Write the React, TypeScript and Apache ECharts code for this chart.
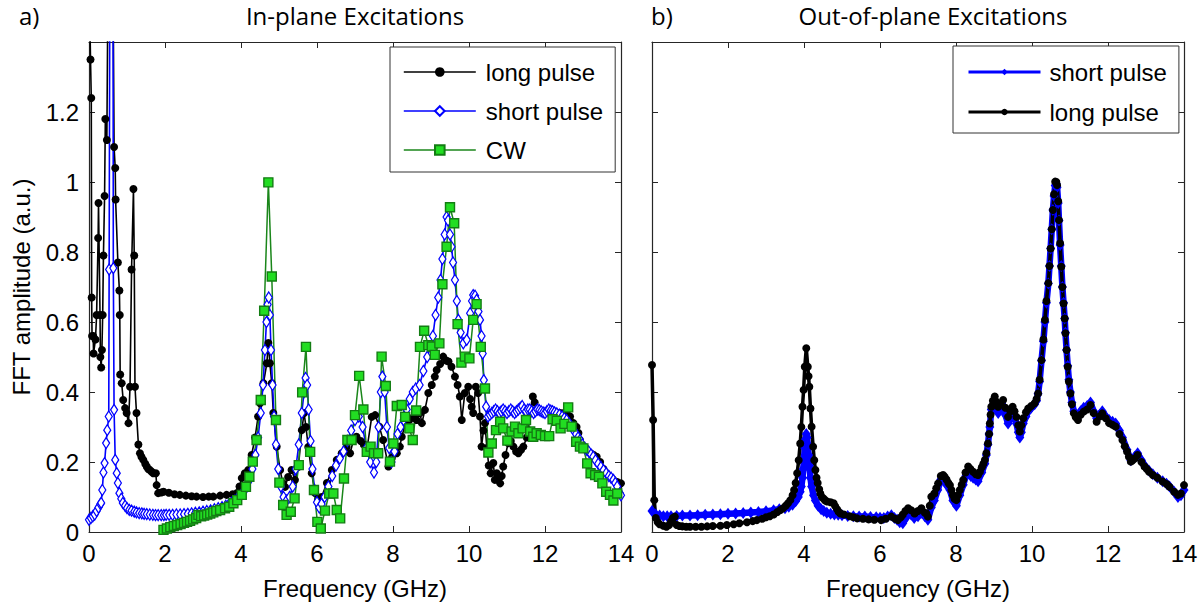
import React, { useEffect, useRef } from "react";
import * as echarts from "echarts";

// ---------- data (frequency GHz, FFT amplitude a.u.) ----------
const inLong: number[][] = [
  [0,1.6],[0.04,1.35],[0.06,1.24],[0.07,0.67],[0.08,0.56],[0.11,0.56],[0.12,0.51],[0.17,0.55],[0.2,0.62],[0.24,0.84],[0.25,0.94],[0.29,0.62],[0.3,0.5],[0.32,0.47],[0.34,0.52],[0.36,0.62],[0.38,0.79],[0.41,0.96],[0.43,1.18],[0.47,1.12],[0.52,1.9],[0.62,1.8],[0.66,1.1],[0.69,1.04],[0.7,0.95],[0.76,0.77],[0.8,0.69],[0.81,0.62],[0.82,0.45],[0.86,0.425],[0.9,0.377],[0.95,0.354],[0.99,0.34],[1.04,0.311],[1.08,0.415],[1.12,0.75],[1.17,0.98],[1.19,0.79],[1.21,0.415],[1.25,0.34],[1.3,0.25],[1.34,0.225],[1.38,0.215],[1.43,0.206],[1.48,0.195],[1.52,0.187],[1.56,0.18],[1.6,0.177],[1.65,0.172],[1.69,0.168],[1.76,0.168],[1.78,0.134],[1.82,0.111],[1.9,0.113],[1.96,0.115],[2.1,0.112],[2.25,0.108],[2.39,0.106],[2.55,0.104],[2.7,0.102],[2.83,0.101],[3.0,0.1],[3.15,0.101],[3.27,0.101],[3.45,0.104],[3.62,0.106],[3.78,0.108],[3.89,0.111],[3.96,0.13],[4.02,0.154],[4.1,0.168],[4.19,0.177],[4.28,0.22],[4.37,0.27],[4.45,0.33],[4.5,0.368],[4.59,0.425],[4.68,0.482],[4.72,0.54],[4.76,0.482],[4.81,0.425],[4.85,0.34],[4.94,0.244],[5.03,0.177],[5.1,0.14],[5.16,0.129],[5.24,0.157],[5.33,0.177],[5.42,0.149],[5.51,0.186],[5.6,0.291],[5.66,0.34],[5.71,0.3],[5.77,0.243],[5.86,0.168],[5.95,0.111],[6.03,0.091],[6.12,0.1],[6.26,0.14],[6.39,0.177],[6.52,0.206],[6.65,0.225],[6.78,0.243],[6.87,0.225],[6.96,0.263],[7.04,0.272],[7.15,0.26],[7.23,0.25],[7.31,0.234],[7.44,0.329],[7.53,0.334],[7.64,0.301],[7.74,0.263],[7.88,0.187],[7.97,0.212],[8.1,0.225],[8.18,0.244],[8.23,0.272],[8.32,0.306],[8.43,0.32],[8.55,0.33],[8.62,0.32],[8.71,0.34],[8.76,0.311],[8.84,0.349],[8.93,0.397],[9.02,0.42],[9.1,0.444],[9.15,0.463],[9.24,0.48],[9.32,0.501],[9.4,0.49],[9.46,0.487],[9.54,0.472],[9.63,0.444],[9.7,0.42],[9.76,0.387],[9.81,0.32],[9.89,0.397],[9.98,0.415],[10.03,0.38],[10.07,0.358],[10.11,0.34],[10.18,0.415],[10.24,0.397],[10.29,0.33],[10.33,0.244],[10.38,0.29],[10.42,0.311],[10.47,0.24],[10.52,0.19],[10.57,0.168],[10.64,0.197],[10.68,0.149],[10.73,0.168],[10.78,0.155],[10.82,0.139],[10.86,0.16],[10.9,0.187],[10.96,0.22],[11.03,0.254],[11.1,0.26],[11.17,0.244],[11.24,0.23],[11.3,0.225],[11.37,0.235],[11.43,0.244],[11.52,0.27],[11.56,0.291],[11.62,0.35],[11.68,0.387],[11.73,0.37],[11.78,0.349],[11.87,0.345],[11.96,0.34],[12.04,0.344],[12.13,0.349],[12.22,0.345],[12.31,0.339],[12.4,0.34],[12.48,0.339],[12.57,0.34],[12.66,0.33],[12.75,0.311],[12.83,0.3],[12.88,0.283],[12.92,0.263],[13.01,0.245],[13.1,0.234],[13.2,0.225],[13.28,0.22],[13.36,0.215],[13.45,0.2],[13.54,0.18],[13.62,0.168],[13.71,0.158],[13.8,0.149],[13.9,0.143],[14.0,0.139]
];

const inShort: number[][] = [
  [0,0.035],[0.05,0.04],[0.1,0.045],[0.15,0.05],[0.2,0.06],[0.25,0.07],[0.3,0.08],[0.32,0.083],[0.35,0.12],[0.38,0.17],[0.41,0.197],[0.45,0.254],[0.48,0.291],[0.52,0.33],[0.53,0.75],[0.58,3.0],[0.62,3.0],[0.64,0.754],[0.66,0.349],[0.69,0.206],[0.73,0.168],[0.76,0.14],[0.8,0.111],[0.85,0.095],[0.89,0.083],[0.95,0.075],[1.0,0.068],[1.06,0.063],[1.12,0.061],[1.19,0.058],[1.25,0.056],[1.32,0.054],[1.39,0.053],[1.45,0.052],[1.52,0.051],[1.6,0.05],[1.68,0.049],[1.75,0.048],[1.82,0.048],[1.9,0.048],[1.97,0.048],[2.03,0.049],[2.11,0.049],[2.2,0.049],[2.3,0.05],[2.4,0.05],[2.5,0.051],[2.6,0.052],[2.7,0.053],[2.8,0.055],[2.9,0.056],[3.0,0.058],[3.1,0.06],[3.2,0.062],[3.3,0.065],[3.4,0.068],[3.5,0.071],[3.6,0.075],[3.68,0.079],[3.75,0.083],[3.83,0.089],[3.9,0.095],[4.0,0.105],[4.1,0.12],[4.2,0.145],[4.3,0.18],[4.38,0.22],[4.45,0.27],[4.52,0.34],[4.58,0.42],[4.63,0.52],[4.67,0.6],[4.7,0.65],[4.73,0.67],[4.76,0.62],[4.79,0.52],[4.83,0.42],[4.87,0.33],[4.92,0.25],[4.98,0.18],[5.05,0.13],[5.12,0.1],[5.2,0.09],[5.28,0.1],[5.36,0.13],[5.44,0.18],[5.52,0.25],[5.6,0.34],[5.66,0.4],[5.7,0.44],[5.74,0.42],[5.78,0.35],[5.83,0.26],[5.88,0.18],[5.94,0.12],[6.0,0.085],[6.06,0.07],[6.12,0.08],[6.2,0.1],[6.3,0.13],[6.4,0.16],[6.5,0.19],[6.6,0.21],[6.7,0.23],[6.8,0.26],[6.9,0.29],[7.0,0.32],[7.1,0.33],[7.2,0.3],[7.3,0.24],[7.4,0.2],[7.5,0.17],[7.56,0.2],[7.62,0.3],[7.68,0.4],[7.72,0.444],[7.78,0.4],[7.84,0.3],[7.9,0.24],[7.96,0.2],[8.04,0.23],[8.12,0.28],[8.2,0.3],[8.28,0.32],[8.36,0.35],[8.44,0.38],[8.52,0.4],[8.6,0.41],[8.7,0.42],[8.8,0.46],[8.9,0.5],[8.98,0.53],[9.05,0.56],[9.12,0.62],[9.19,0.67],[9.25,0.72],[9.3,0.78],[9.36,0.85],[9.41,0.9],[9.45,0.89],[9.5,0.85],[9.54,0.815],[9.58,0.77],[9.63,0.72],[9.68,0.66],[9.72,0.606],[9.78,0.57],[9.85,0.539],[9.94,0.549],[10.03,0.625],[10.08,0.66],[10.11,0.677],[10.16,0.675],[10.2,0.663],[10.25,0.63],[10.29,0.606],[10.33,0.56],[10.36,0.51],[10.39,0.434],[10.45,0.358],[10.5,0.33],[10.55,0.335],[10.6,0.34],[10.65,0.345],[10.7,0.35],[10.75,0.345],[10.8,0.34],[10.85,0.345],[10.9,0.35],[10.95,0.345],[11.0,0.34],[11.05,0.345],[11.1,0.35],[11.15,0.345],[11.2,0.34],[11.25,0.345],[11.3,0.35],[11.35,0.355],[11.4,0.36],[11.45,0.35],[11.5,0.345],[11.55,0.35],[11.6,0.35],[11.65,0.345],[11.7,0.34],[11.75,0.345],[11.8,0.35],[11.85,0.348],[11.9,0.345],[11.95,0.342],[12.0,0.34],[12.05,0.345],[12.1,0.35],[12.15,0.347],[12.2,0.345],[12.25,0.342],[12.31,0.339],[12.38,0.335],[12.45,0.33],[12.51,0.325],[12.57,0.32],[12.64,0.31],[12.7,0.3],[12.76,0.29],[12.82,0.28],[12.87,0.27],[12.92,0.263],[12.98,0.25],[13.05,0.24],[13.1,0.235],[13.15,0.23],[13.21,0.222],[13.27,0.215],[13.33,0.205],[13.4,0.195],[13.47,0.186],[13.54,0.177],[13.61,0.168],[13.68,0.16],[13.74,0.155],[13.8,0.149],[13.85,0.14],[13.9,0.13],[13.97,0.111],[14.0,0.105]
];

const inCW: number[][] = [
  [1.96,0.006],[2.05,0.01],[2.14,0.014],[2.23,0.017],[2.32,0.02],[2.41,0.023],[2.5,0.026],[2.58,0.029],[2.66,0.032],[2.74,0.036],[2.82,0.04],[2.88,0.049],[2.95,0.045],[3.03,0.047],[3.11,0.05],[3.19,0.053],[3.27,0.056],[3.35,0.06],[3.45,0.063],[3.58,0.068],[3.69,0.072],[3.8,0.082],[3.9,0.091],[4.02,0.106],[4.13,0.129],[4.22,0.158],[4.31,0.201],[4.41,0.263],[4.52,0.377],[4.61,0.632],[4.72,0.999],[4.81,0.73],[4.92,0.32],[5.01,0.141],[5.11,0.077],[5.2,0.049],[5.31,0.058],[5.41,0.096],[5.52,0.191],[5.61,0.399],[5.71,0.529],[5.82,0.229],[5.92,0.12],[6.01,0.029],[6.1,0.01],[6.21,0.061],[6.32,0.11],[6.43,0.11],[6.52,0.063],[6.61,0.039],[6.71,0.153],[6.8,0.263],[6.91,0.263],[7.0,0.334],[7.11,0.446],[7.22,0.35],[7.31,0.229],[7.41,0.244],[7.5,0.225],[7.61,0.225],[7.7,0.501],[7.81,0.417],[7.92,0.201],[8.01,0.253],[8.1,0.36],[8.23,0.363],[8.32,0.329],[8.43,0.296],[8.52,0.263],[8.61,0.347],[8.71,0.529],[8.82,0.575],[8.93,0.534],[9.02,0.53],[9.1,0.506],[9.22,0.539],[9.3,0.708],[9.41,0.815],[9.5,0.928],[9.61,0.882],[9.7,0.594],[9.8,0.484],[9.89,0.501],[10.01,0.496],[10.11,0.606],[10.2,0.651],[10.31,0.529],[10.42,0.41],[10.51,0.227],[10.6,0.253],[10.71,0.291],[10.82,0.315],[10.9,0.296],[11.01,0.261],[11.12,0.287],[11.21,0.301],[11.3,0.282],[11.41,0.296],[11.5,0.32],[11.61,0.287],[11.69,0.272],[11.78,0.282],[11.89,0.277],[12.0,0.274],[12.11,0.274],[12.2,0.322],[12.31,0.318],[12.41,0.296],[12.51,0.309],[12.61,0.356],[12.7,0.301],[12.82,0.258],[12.92,0.244],[13.01,0.239],[13.11,0.196],[13.2,0.168],[13.32,0.163],[13.42,0.158],[13.51,0.139],[13.61,0.115],[13.71,0.106],[13.8,0.09],[13.9,0.11]
];

const outShort: number[][] = [
  [0,0.06],[0.1,0.05],[0.2,0.047],[0.3,0.045],[0.4,0.045],[0.5,0.045],[0.65,0.046],[0.8,0.047],[1.0,0.047],[1.2,0.048],[1.4,0.049],[1.6,0.05],[1.8,0.051],[2.0,0.052],[2.2,0.053],[2.4,0.054],[2.6,0.056],[2.8,0.057],[3.0,0.059],[3.2,0.062],[3.35,0.065],[3.5,0.068],[3.6,0.072],[3.7,0.078],[3.78,0.088],[3.85,0.1],[3.9,0.115],[3.93,0.13],[3.96,0.155],[3.98,0.18],[4.0,0.21],[4.02,0.24],[4.04,0.265],[4.06,0.28],[4.08,0.27],[4.1,0.25],[4.12,0.22],[4.14,0.19],[4.17,0.155],[4.2,0.13],[4.25,0.105],[4.3,0.09],[4.37,0.075],[4.45,0.065],[4.52,0.06],[4.6,0.055],[4.7,0.052],[4.8,0.05],[4.9,0.049],[5.0,0.048],[5.15,0.046],[5.3,0.045],[5.45,0.044],[5.6,0.044],[5.75,0.043],[5.9,0.042],[6.0,0.041],[6.1,0.04],[6.2,0.044],[6.3,0.048],[6.38,0.04],[6.45,0.035],[6.52,0.028],[6.6,0.025],[6.68,0.04],[6.74,0.055],[6.82,0.05],[6.9,0.04],[7.0,0.045],[7.09,0.055],[7.18,0.045],[7.26,0.035],[7.35,0.07],[7.43,0.09],[7.52,0.12],[7.6,0.15],[7.66,0.15],[7.75,0.135],[7.84,0.12],[7.92,0.09],[8.01,0.075],[8.1,0.105],[8.19,0.135],[8.26,0.16],[8.32,0.17],[8.39,0.16],[8.45,0.155],[8.52,0.15],[8.58,0.145],[8.68,0.17],[8.76,0.195],[8.8,0.22],[8.84,0.25],[8.87,0.28],[8.89,0.3],[8.93,0.35],[8.98,0.365],[9.02,0.37],[9.07,0.355],[9.11,0.34],[9.17,0.35],[9.24,0.36],[9.3,0.335],[9.37,0.31],[9.43,0.325],[9.49,0.34],[9.54,0.325],[9.59,0.31],[9.64,0.285],[9.68,0.27],[9.72,0.285],[9.77,0.31],[9.84,0.33],[9.9,0.345],[9.98,0.355],[10.07,0.365],[10.12,0.375],[10.16,0.395],[10.2,0.43],[10.25,0.49],[10.3,0.545],[10.34,0.6],[10.38,0.655],[10.43,0.71],[10.46,0.76],[10.49,0.81],[10.52,0.865],[10.55,0.92],[10.58,0.96],[10.61,0.99],[10.64,0.995],[10.66,0.985],[10.69,0.94],[10.71,0.89],[10.74,0.82],[10.77,0.76],[10.8,0.7],[10.83,0.655],[10.86,0.61],[10.88,0.57],[10.91,0.52],[10.94,0.475],[10.97,0.435],[11.01,0.4],[11.05,0.37],[11.1,0.345],[11.15,0.335],[11.21,0.33],[11.28,0.345],[11.36,0.355],[11.45,0.36],[11.54,0.37],[11.62,0.345],[11.7,0.325],[11.78,0.335],[11.85,0.345],[11.94,0.33],[12.03,0.32],[12.12,0.315],[12.2,0.31],[12.3,0.29],[12.38,0.27],[12.5,0.235],[12.6,0.205],[12.7,0.215],[12.78,0.225],[12.88,0.205],[12.96,0.19],[13.08,0.175],[13.18,0.165],[13.3,0.155],[13.44,0.145],[13.54,0.138],[13.62,0.13],[13.74,0.115],[13.84,0.1],[13.92,0.105],[14.0,0.12]
];

const outLong: number[][] = [
  [0,0.477],[0.03,0.32],[0.06,0.091],[0.1,0.04],[0.15,0.028],[0.2,0.022],[0.3,0.018],[0.38,0.015],[0.45,0.02],[0.5,0.03],[0.55,0.04],[0.6,0.044],[0.65,0.02],[0.72,0.017],[0.8,0.016],[0.9,0.015],[1.0,0.015],[1.15,0.015],[1.3,0.015],[1.45,0.016],[1.6,0.017],[1.8,0.018],[1.97,0.02],[2.15,0.022],[2.3,0.025],[2.5,0.028],[2.65,0.031],[2.76,0.034],[2.9,0.038],[3.0,0.042],[3.1,0.045],[3.2,0.05],[3.3,0.057],[3.38,0.063],[3.45,0.068],[3.52,0.075],[3.58,0.082],[3.64,0.091],[3.7,0.105],[3.74,0.12],[3.78,0.14],[3.82,0.168],[3.86,0.205],[3.9,0.253],[3.93,0.3],[3.96,0.358],[3.99,0.406],[4.02,0.472],[4.06,0.525],[4.1,0.472],[4.12,0.445],[4.14,0.415],[4.17,0.353],[4.2,0.301],[4.24,0.244],[4.27,0.205],[4.3,0.177],[4.33,0.155],[4.36,0.14],[4.4,0.122],[4.43,0.11],[4.47,0.1],[4.52,0.095],[4.56,0.09],[4.61,0.087],[4.7,0.085],[4.78,0.082],[4.82,0.074],[4.87,0.065],[4.91,0.058],[4.96,0.053],[5.05,0.05],[5.2,0.045],[5.3,0.042],[5.4,0.039],[5.55,0.038],[5.7,0.036],[5.85,0.035],[6.03,0.034],[6.15,0.038],[6.3,0.044],[6.4,0.038],[6.47,0.034],[6.55,0.042],[6.6,0.05],[6.67,0.06],[6.74,0.068],[6.82,0.062],[6.91,0.053],[7.0,0.06],[7.09,0.068],[7.18,0.055],[7.26,0.044],[7.31,0.075],[7.35,0.101],[7.43,0.11],[7.48,0.125],[7.53,0.139],[7.6,0.16],[7.66,0.163],[7.7,0.158],[7.75,0.15],[7.8,0.14],[7.84,0.134],[7.88,0.12],[7.92,0.105],[7.96,0.095],[8.01,0.091],[8.05,0.105],[8.1,0.12],[8.15,0.135],[8.19,0.149],[8.25,0.17],[8.32,0.187],[8.38,0.18],[8.45,0.172],[8.52,0.165],[8.58,0.163],[8.63,0.172],[8.68,0.185],[8.72,0.195],[8.76,0.206],[8.8,0.225],[8.84,0.253],[8.87,0.28],[8.89,0.31],[8.91,0.335],[8.93,0.358],[8.97,0.375],[9.02,0.387],[9.06,0.372],[9.11,0.358],[9.17,0.366],[9.24,0.377],[9.3,0.355],[9.37,0.329],[9.43,0.345],[9.49,0.358],[9.54,0.345],[9.59,0.329],[9.64,0.305],[9.68,0.287],[9.72,0.305],[9.77,0.325],[9.84,0.342],[9.9,0.353],[9.98,0.36],[10.07,0.368],[10.12,0.38],[10.16,0.396],[10.2,0.435],[10.25,0.491],[10.3,0.55],[10.34,0.606],[10.38,0.66],[10.43,0.711],[10.46,0.76],[10.49,0.81],[10.52,0.865],[10.55,0.92],[10.58,0.965],[10.61,1.001],[10.64,1.0],[10.66,0.991],[10.69,0.945],[10.71,0.891],[10.74,0.825],[10.77,0.758],[10.8,0.7],[10.83,0.653],[10.86,0.61],[10.88,0.568],[10.91,0.52],[10.94,0.472],[10.97,0.43],[11.01,0.396],[11.05,0.365],[11.1,0.339],[11.15,0.328],[11.21,0.32],[11.28,0.335],[11.36,0.344],[11.45,0.35],[11.54,0.363],[11.62,0.34],[11.7,0.315],[11.78,0.33],[11.85,0.339],[11.94,0.325],[12.03,0.311],[12.12,0.306],[12.2,0.301],[12.3,0.28],[12.38,0.263],[12.44,0.245],[12.5,0.23],[12.55,0.215],[12.6,0.201],[12.65,0.205],[12.7,0.21],[12.78,0.22],[12.88,0.2],[12.96,0.187],[13.02,0.18],[13.08,0.172],[13.18,0.163],[13.3,0.155],[13.44,0.144],[13.54,0.137],[13.62,0.129],[13.74,0.115],[13.84,0.106],[13.92,0.11],[14.0,0.134]
];

const xTicks = [0, 2, 4, 6, 8, 10, 12, 14];
const yTicks = [0, 0.2, 0.4, 0.6, 0.8, 1, 1.2];
const panelTitles = ["In-plane Excitations", "Out-of-plane Excitations"];
const panelLetters = ["a)", "b)"];
const legendLeft = ["long pulse", "short pulse", "CW"];
const legendRight = ["short pulse", "long pulse"];

const SANS = '"Liberation Sans", Arial, sans-serif';
const TITLE_FONT = '"Open Sans", "DejaVu Sans", sans-serif';
const AX = "#262626";

export default function App() {
  const ref = useRef<HTMLDivElement>(null);
  useEffect(() => {
    if (!ref.current) return;
    const chart = echarts.init(ref.current, undefined, { renderer: "svg" });
    const grids = [
      { left: 89, top: 42, width: 532, height: 490 },
      { left: 652, top: 42, width: 532, height: 490 },
    ];
    const xMin = xTicks[0];
    const xMax = xTicks[xTicks.length - 1];
    const yStep = yTicks[1] - yTicks[0];
    const yMax = 1.4;

    const mkX = (gridIndex: number, top: boolean, withName: boolean) => ({
      type: "value",
      gridIndex,
      position: top ? "top" : "bottom",
      min: xMin,
      max: xMax,
      interval: 2,
      name: withName ? "Frequency (GHz)" : "",
      nameLocation: "middle",
      nameGap: 44,
      nameTextStyle: { fontFamily: SANS, fontSize: 24, color: "#000" },
      axisLine: { show: true, onZero: false, lineStyle: { color: AX, width: 1.2 } },
      axisTick: { show: true, inside: true, length: 6, lineStyle: { color: AX } },
      axisLabel: {
        show: !top,
        fontFamily: SANS,
        fontSize: 24,
        color: "#000",
        margin: 9,
      },
      splitLine: { show: false },
    });
    const mkY = (gridIndex: number, right: boolean, labels: boolean, withName: boolean) => ({
      type: "value",
      gridIndex,
      position: right ? "right" : "left",
      min: 0,
      max: yMax,
      interval: yStep,
      name: withName ? "FFT amplitude (a.u.)" : "",
      nameLocation: "middle",
      nameGap: 56,
      nameTextStyle: { fontFamily: SANS, fontSize: 24, color: "#000" },
      axisLine: { show: true, onZero: false, lineStyle: { color: AX, width: 1.2 } },
      axisTick: { show: true, inside: true, length: 6, lineStyle: { color: AX } },
      axisLabel: {
        show: labels,
        fontFamily: SANS,
        fontSize: 24,
        color: "#000",
        margin: 10,
        formatter: (v: number) => (yTicks.some((t) => Math.abs(t - v) < 1e-6) ? String(Math.round(v * 10) / 10) : ""),
      },
      splitLine: { show: false },
    });

    const option: any = {
      animation: false,
      backgroundColor: "#fff",
      title: [
        { text: panelLetters[0], left: 19, top: 3, padding: 0, textStyle: { fontFamily: TITLE_FONT, fontSize: 24, fontWeight: "normal", color: "#000" } },
        { text: panelTitles[0], left: 355, top: 3, padding: 0, textAlign: "center", textStyle: { fontFamily: TITLE_FONT, fontSize: 24, fontWeight: "normal", color: "#000" } },
        { text: panelLetters[1], left: 651, top: 3, padding: 0, textStyle: { fontFamily: TITLE_FONT, fontSize: 24, fontWeight: "normal", color: "#000" } },
        { text: panelTitles[1], left: 933, top: 3, padding: 0, textAlign: "center", textStyle: { fontFamily: TITLE_FONT, fontSize: 24, fontWeight: "normal", color: "#000" } },
      ],
      legend: [
        {
          data: legendLeft,
          orient: "vertical",
          left: 390,
          top: 47,
          padding: [13, 12, 10, 13],
          itemGap: 15,
          itemWidth: 72,
          itemHeight: 12,
          borderColor: "#333",
          borderWidth: 1,
          borderRadius: 0,
          backgroundColor: "#fff",
          lineStyle: { width: 1.6 },
          textStyle: { fontFamily: SANS, fontSize: 24, color: "#000", padding: [0, 0, 0, 5] },
          selectedMode: false,
        },
        {
          data: [
            { name: legendRight[0], itemStyle: { color: "#0000ff", borderColor: "#0000ff", borderWidth: 0 }, lineStyle: { color: "#0000ff", width: 3 } },
            { name: legendRight[1], lineStyle: { width: 3 } },
          ],
          orient: "vertical",
          left: 953,
          top: 46,
          padding: [14, 12, 9, 14],
          itemGap: 16,
          itemWidth: 72,
          itemHeight: 8,
          borderColor: "#333",
          borderWidth: 1,
          borderRadius: 0,
          backgroundColor: "#fff",
          textStyle: { fontFamily: SANS, fontSize: 24, color: "#000", padding: [0, 0, 0, 4] },
          selectedMode: false,
        },
      ],
      grid: grids,
      xAxis: [mkX(0, false, true), mkX(0, true, false), mkX(1, false, true), mkX(1, true, false)],
      yAxis: [mkY(0, false, true, true), mkY(0, true, false, false), mkY(1, false, false, false), mkY(1, true, false, false)],
      series: [
        {
          name: "long pulse",
          type: "line",
          xAxisIndex: 0,
          yAxisIndex: 0,
          data: inLong,
          symbol: "circle",
          symbolSize: 8,
          clip: true,
          itemStyle: { color: "#000", borderWidth: 0 },
          lineStyle: { color: "#000", width: 1.6 },
          emphasis: { disabled: true },
          silent: true,
        },
        {
          name: "short pulse",
          type: "line",
          xAxisIndex: 0,
          yAxisIndex: 0,
          data: inShort,
          symbol: "diamond",
          symbolSize: [7, 11],
          clip: true,
          itemStyle: { color: "#fff", borderColor: "#0000ff", borderWidth: 1.3 },
          lineStyle: { color: "#0000ff", width: 1.6 },
          emphasis: { disabled: true },
          silent: true,
        },
        {
          name: "CW",
          type: "line",
          xAxisIndex: 0,
          yAxisIndex: 0,
          data: inCW,
          symbol: "rect",
          symbolSize: 9,
          clip: true,
          itemStyle: { color: "#22dd22", borderColor: "#137d13", borderWidth: 1.4 },
          lineStyle: { color: "#1a861a", width: 1.5 },
          emphasis: { disabled: true },
          silent: true,
        },
        {
          name: "short pulse",
          type: "line",
          xAxisIndex: 2,
          yAxisIndex: 2,
          data: outShort,
          symbol: "diamond",
          symbolSize: [9, 12],
          clip: true,
          itemStyle: { color: "#0000ff", borderWidth: 0 },
          lineStyle: { color: "#0000ff", width: 6.5 },
          emphasis: { disabled: true },
          silent: true,
        },
        {
          name: "long pulse",
          type: "line",
          xAxisIndex: 2,
          yAxisIndex: 2,
          data: outLong,
          symbol: "circle",
          symbolSize: 8,
          clip: true,
          itemStyle: { color: "#000", borderWidth: 0 },
          lineStyle: { color: "#000", width: 3.5 },
          emphasis: { disabled: true },
          silent: true,
        },
      ],
    };
    chart.setOption(option);
    return () => chart.dispose();
  }, []);
  return (
    <div
      ref={ref}
      style={{ position: "fixed", left: 0, top: 0, width: 1203, height: 606, background: "#fff" }}
    />
  );
}
